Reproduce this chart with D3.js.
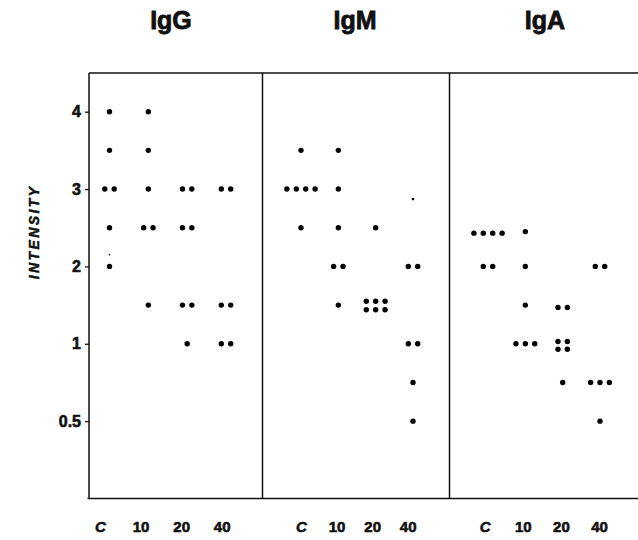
<!DOCTYPE html>
<html><head><meta charset="utf-8">
<script src="https://cdn.jsdelivr.net/npm/d3@7"></script>
<style>body{margin:0;background:#fff} svg{display:block}</style>
</head><body><svg id="c" width="638" height="540"></svg>
<script>
// ---- data ----
const panels = ["IgG", "IgM", "IgA"];
const doses = ["C", "10", "20", "40"];
const yTickValues = [0.5, 1, 2, 3, 4];
const yLevels = [0.25, 0.5, 1, 2, 3, 4];
// one list of intensity values per dose group (C, 10, 20, 40)
const igGValues = [[4, 3.5, 3, 3, 2.5, 2], [4, 3.5, 3, 2.5, 2.5, 1.5], [3, 3, 2.5, 2.5, 1.5, 1.5, 1], [3, 3, 1.5, 1.5, 1, 1]];
const igMValues = [[3.5, 3, 3, 3, 3, 2.5], [3.5, 3, 2.5, 2, 2, 1.5], [2.5, 1.55, 1.55, 1.55, 1.44, 1.44, 1.44], [2, 2, 1, 1, 0.75, 0.5]];
const igAValues = [[2.43, 2.43, 2.43, 2.43, 2, 2], [2.45, 2, 1.5, 1, 1, 1], [1.47, 1.47, 1.03, 1.03, 0.965, 0.965, 0.75], [2, 2, 0.75, 0.75, 0.75, 0.5]];
// faint specks
const speckPanel = ["IgG", "IgM"];
const speckDose = ["C", "40"];
const speckValue = [2.15, 2.87];

// ---- layout ----
const svg = d3.select("#c");
const font = "Liberation Sans, Arial, sans-serif";
const yTop = 73, yBottom = 498.5;
const step = (yBottom - yTop) / 5.5;
const y = d3.scaleLinear().domain(yLevels).range(yLevels.map((d, i) => yBottom - i * step));
const panelLeft = [89, 262.5, 449.5];
const panelRight = [262.5, 449.5, 641];
const dotRange = [[109.5, 226], [301, 413], [488, 600]];
const labelRange = [[100, 221.7], [301, 407.7], [484.7, 599]];
const titleX = [171, 355, 545];
const allValues = [igGValues, igMValues, igAValues];
const dotGap = 9.4, dotR = 2.7;
const ink = "#111";

// frame
const frame = d3.path();
frame.moveTo(panelLeft[0], yTop); frame.lineTo(panelRight[2], yTop);
frame.moveTo(panelLeft[0] - 1.5, yBottom); frame.lineTo(panelRight[2], yBottom);
panelLeft.forEach(x => { frame.moveTo(x, yTop); frame.lineTo(x, yBottom); });
svg.append("path").attr("d", frame.toString()).attr("fill", "none")
  .attr("stroke", ink).attr("stroke-width", 1.5);

// y axis
const yAxis = svg.append("g").attr("transform", `translate(${panelLeft[0]},0)`)
  .call(d3.axisLeft(y).tickValues(yTickValues).tickSize(4).tickPadding(4).tickFormat(d => String(d)));
yAxis.select(".domain").remove();
yAxis.selectAll("line").attr("stroke", ink).attr("stroke-width", 1.3);
yAxis.selectAll("text").attr("font-family", font)
  .attr("font-weight", "bold").attr("font-size", 16).attr("fill", ink)
  .attr("stroke", ink).attr("stroke-width", 0.6);

// y title
svg.append("text").attr("transform", "translate(38.5,232) rotate(-90)")
  .attr("text-anchor", "middle").attr("font-family", font)
  .attr("font-weight", "bold").attr("font-style", "italic").attr("font-size", 14)
  .attr("letter-spacing", 2.4).attr("fill", ink).attr("stroke", ink).attr("stroke-width", 0.5)
  .text("INTENSITY");

panels.forEach((p, pi) => {
  const x = d3.scalePoint().domain(doses).range(dotRange[pi]);
  const xl = d3.scalePoint().domain(doses).range(labelRange[pi]);

  // title
  svg.append("text").attr("x", titleX[pi]).attr("y", 29).attr("text-anchor", "middle")
    .attr("font-family", font).attr("font-weight", "bold")
    .attr("font-size", 25).attr("fill", ink).attr("stroke", ink).attr("stroke-width", 0.8).text(p);

  // dose labels
  const xa = svg.append("g").attr("transform", `translate(0,${yBottom})`)
    .call(d3.axisBottom(xl).tickSize(0).tickPadding(23));
  xa.select(".domain").remove();
  xa.selectAll("text").attr("font-family", font)
    .attr("font-weight", "bold").attr("font-size", 15).attr("fill", ink)
    .attr("stroke", ink).attr("stroke-width", 0.6)
    .attr("font-style", d => d === "C" ? "italic" : "normal");

  // dots: equal values sit side by side
  const pts = [];
  doses.forEach((dose, di) => {
    const groups = d3.group(allValues[pi][di], v => v);
    groups.forEach((vals, v) => {
      vals.forEach((_, k) => {
        pts.push({ x: x(dose) + (k - (vals.length - 1) / 2) * dotGap, v });
      });
    });
  });
  svg.append("g").selectAll("circle").data(pts).join("circle")
    .attr("cx", d => d.x).attr("cy", d => y(d.v)).attr("r", dotR).attr("fill", "#000");

  // specks
  speckPanel.forEach((sp, si) => {
    if (sp !== p) return;
    svg.append("circle").attr("cx", x(speckDose[si])).attr("cy", y(speckValue[si]))
      .attr("r", si === 0 ? 0.8 : 1.3).attr("fill", "#000");
  });
});
</script></body></html>
